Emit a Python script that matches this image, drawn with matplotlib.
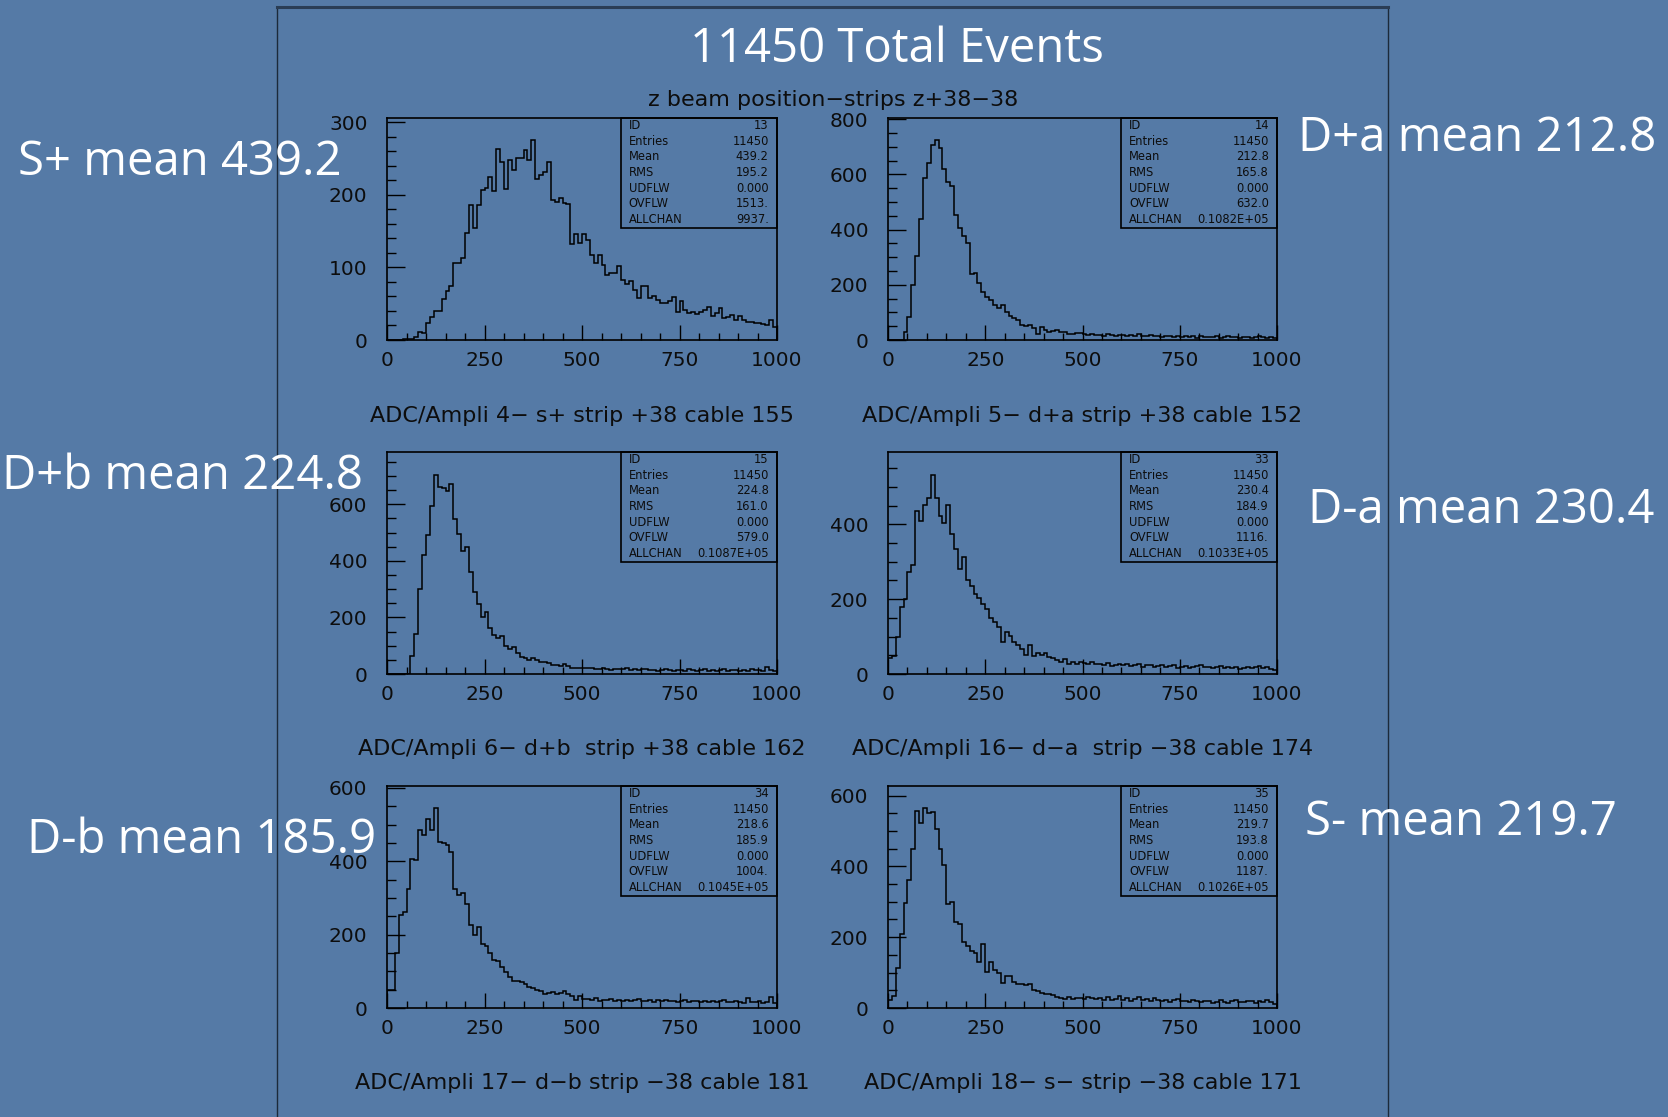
import matplotlib
matplotlib.use("Agg")
import matplotlib.pyplot as plt
from matplotlib.patches import Rectangle
from matplotlib.lines import Line2D
import numpy as np

# ---------------- data ----------------
bin_edges = np.arange(0, 1001, 10)

h_splus = [0,0,0,0,1,1,2,4,11,9, 23,32,40,40,56,68,74,106,106,113,
           148,186,154,186,207,209,225,205,263,246, 208,248,235,251,251,262,248,275,222,228,
           231,246,193,190,196,189,188,133,146,134, 146,138,117,106,117,104,90,92,93,102,
           83,77,81,69,58,74,74,58,60,55, 51,51,54,59,38,54,41,37,39,36,
           39,41,45,33,37,44,30,32,35,28, 33,28,25,25,23,23,22,21,27,18]

h_dpa = [0,0,0,0,30,85,200,305,437,586, 640,707,723,695,619,574,558,453,405,375,
         350,239,242,205,175,157,145,127,117,127, 103,87,79,73,54,52,54,42,21,46,
         36,30,34,36,30,30,22,22,27,24,
         20,18,22,17,19,16,21,18,15,19, 17,14,18,16,20,15,13,17,14,16,
         12,15,13,10,14,12,16,11,13,9, 14,11,12,10,13,9,12,14,10,11,
         8,12,10,9,11,13,10,8,12,7]

h_dpb = [0,0,0,0,0,0,65,140,302,422, 493,593,705,661,658,646,673,547,496,434,
         449,359,291,249,202,220,161,138,128,135, 100,88,96,73,61,55,49,55,49,44,
         41,38,32,32,29,34,28,22,20,22, 22,
         20,21,18,19,22,17,15,19,16, 18,20,15,17,14,16,19,13,15,12,
         14,16,13,11,15,13,12,17,14,10, 13,18,12,15,11,14,16,12,13,15,
         11,14,12,16,13,15,12,24,14,10]

h_dma = [42,49,100,180,200,273,292,435,408,452, 470,532,470,422,404,452,375,335,280,313,
         251,236,215,204,188,173,150,140,126,86, 113,102,86,77,68,52,77,49,55,52,
         55,46,42,37,33,40,28,31,28,31,
         30,26,33,27,28,24,29,22,25,27, 23,26,21,24,27,20,23,25,19,22,
         24,18,21,23,17,20,22,15,19,21, 24,20,18,15,19,22,17,20,16,18,
         14,17,19,15,18,21,16,19,14,12]

h_dmb = [48,50,150,253,262,325,405,403,486,471, 516,485,546,453,450,444,425,325,307,314,
         283,225,198,221,175,168,150,130,128,112, 98,85,74,74,71,65,57,55,48,46,
         39,41,44,39,41,46,39,32,21,32, 25,
         24,22,26,20,23,21,25,19,22, 20,23,18,21,24,19,20,22,17,21,
         19,22,18,20,16,19,21,17,18,20, 15,19,17,20,16,18,21,15,17,19,
         16,14,26,17,15,19,14,16,30,13]

h_sminus = [22,33,114,208,296,362,450,556,522,566, 551,553,506,450,403,295,299,243,238,186,
            174,161,155,130,180,102,130,106,99,71, 89,89,73,69,67,64,67,52,48,42,
            40,39,36,31,29,26,31,26,29,29, 26,
            30,27,25,29,24,31,22,26,33, 24,28,21,26,30,22,25,19,27,23,
            20,24,18,22,26,19,21,17,23,20, 16,21,19,14,18,22,17,15,20,24,
            18,16,21,19,15,20,17,22,18,12]

hists = [h_splus, h_dpa, h_dpb, h_dma, h_dmb, h_sminus]
y_tops = [306, 804, 785, 593, 605, 627]
y_major = [100, 200, 200, 200, 200, 200]
y_minor = [20, 50, 50, 50, 50, 50]

x_titles = ["ADC/Ampli 4\u2212 s+ strip +38 cable 155",
            "ADC/Ampli 5\u2212 d+a strip +38 cable 152",
            "ADC/Ampli 6\u2212 d+b  strip +38 cable 162",
            "ADC/Ampli 16\u2212 d\u2212a  strip \u221238 cable 174",
            "ADC/Ampli 17\u2212 d\u2212b strip \u221238 cable 181",
            "ADC/Ampli 18\u2212 s\u2212 strip \u221238 cable 171"]

stat_names = ["ID", "Entries", "Mean", "RMS", "UDFLW", "OVFLW", "ALLCHAN"]
stat_values = [["13", "11450", "439.2", "195.2", "0.000", "1513.", "9937."],
               ["14", "11450", "212.8", "165.8", "0.000", "632.0", "0.1082E+05"],
               ["15", "11450", "224.8", "161.0", "0.000", "579.0", "0.1087E+05"],
               ["33", "11450", "230.4", "184.9", "0.000", "1116.", "0.1033E+05"],
               ["34", "11450", "218.6", "185.9", "0.000", "1004.", "0.1045E+05"],
               ["35", "11450", "219.7", "193.8", "0.000", "1187.", "0.1026E+05"]]

side_labels = ["S+ mean 439.2", "D+a mean 212.8", "D+b mean 224.8",
               "D-a mean 230.4", "D-b mean 185.9", "S- mean 219.7"]

title = "11450 Total Events"
subtitle = "z beam position\u2212strips z+38\u221238"

# ---------------- layout ----------------
W, H = 1668, 1117
DPI = 100
BG = "#557aa6"
INK = "#0d0d0d"
fig = plt.figure(figsize=(W / DPI, H / DPI), dpi=DPI, facecolor=BG)

def fx(x):
    return x / W

def fy(y):
    return 1 - y / H

# outer frame
fig.add_artist(Line2D([fx(277), fx(277)], [fy(7), fy(1117)], color="#1c2a3a", lw=1.0))
fig.add_artist(Line2D([fx(1388), fx(1388)], [fy(7), fy(1117)], color="#1c2a3a", lw=1.0))
fig.add_artist(Line2D([fx(277), fx(1388)], [fy(7), fy(7)], color="#2a3d55", lw=2.2))

fig.text(fx(897), fy(49), title, color="white", fontsize=34, family="Open Sans",
         ha="center", va="center")
fig.text(fx(833), fy(100), subtitle, color=INK, fontsize=16, family="DejaVu Sans",
         ha="center", va="center")

cols = [(387, 777), (888, 1277)]
rows = [(118, 340), (452, 674), (786, 1008)]
title_y = [416, 749, 1083]

side_pos = [(18, 162), (1298, 138), (2, 476), (1308, 510), (27, 840), (1305, 822)]

for i in range(6):
    r, c = divmod(i, 2)
    l, rr = cols[c]
    t, b = rows[r]
    ax = fig.add_axes([fx(l), fy(b), (rr - l) / W, (b - t) / H])
    ax.set_facecolor("none")
    ax.stairs(hists[i], bin_edges, color="black", lw=1.1, baseline=0)
    ax.set_xlim(0, 1000)
    ax.set_ylim(0, y_tops[i])
    ax.set_xticks(np.arange(0, 1001, 250))
    ax.set_xticks(np.arange(0, 1001, 50), minor=True)
    ax.set_yticks(np.arange(0, y_tops[i] + 1, y_major[i]))
    ax.set_yticks(np.arange(0, y_tops[i] + 1, y_minor[i]), minor=True)
    for s in ax.spines.values():
        s.set_color("black")
        s.set_linewidth(1.2)
    ax.tick_params(axis="x", which="major", direction="in", length=11, width=1.0,
                   pad=8, labelsize=14.5, colors="black", labelcolor=INK, top=False)
    ax.tick_params(axis="x", which="minor", direction="in", length=5, width=1.0, top=False)
    ax.tick_params(axis="y", which="major", direction="in", length=13, width=1.0,
                   pad=14, labelsize=14.5, colors="black", labelcolor=INK, right=False)
    ax.tick_params(axis="y", which="minor", direction="in", length=6.5, width=1.0, right=False)
    for lab in ax.get_xticklabels() + ax.get_yticklabels():
        lab.set_family("DejaVu Sans")

    # stats box
    ax.add_patch(Rectangle((0.6, 0.505), 0.4, 0.495, transform=ax.transAxes,
                           fill=False, ec="black", lw=1.2, clip_on=False))
    for k in range(7):
        yy = 0.965 - 0.0703 * k
        ax.text(0.62, yy, stat_names[k], transform=ax.transAxes, fontsize=8.3,
                family="DejaVu Sans", color=INK, ha="left", va="center")
        ax.text(0.979, yy, stat_values[i][k], transform=ax.transAxes, fontsize=8.3,
                family="DejaVu Sans", color=INK, ha="right", va="center")

    fig.text(fx((l + rr) / 2), fy(title_y[r]), x_titles[i], color=INK,
             fontsize=16, family="DejaVu Sans", ha="center", va="center")

    sx, sy = side_pos[i]
    fig.text(fx(sx), fy(sy), side_labels[i], color="white", fontsize=34,
             family="Open Sans", ha="left", va="center")

fig.savefig("out.png", dpi=DPI, facecolor=BG)
